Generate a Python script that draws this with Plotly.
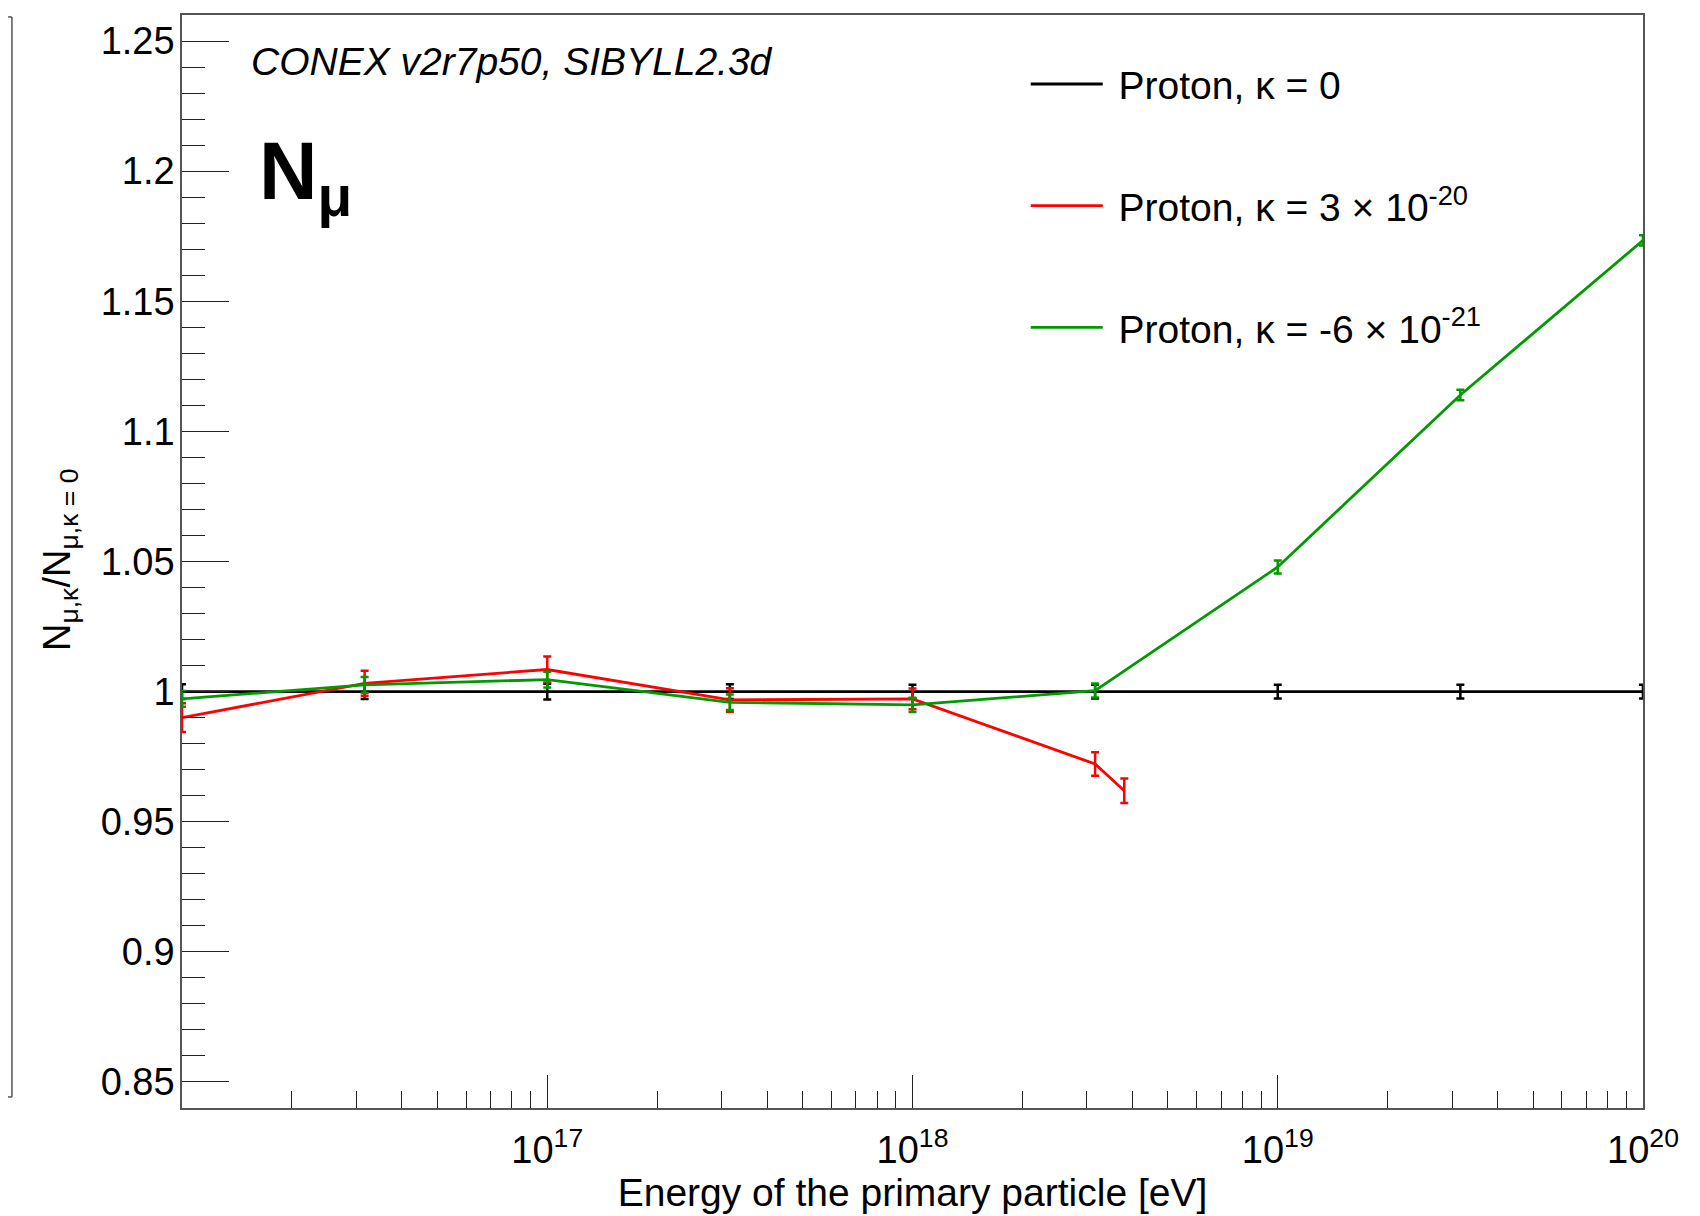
import plotly.graph_objects as go

# ---------------- data ----------------
energy = [1.0e16, 3.162e16, 1.0e17, 3.162e17, 1.0e18, 3.162e18, 1.0e19, 3.162e19, 1.0e20]

ref_ratio = [1.000, 1.000, 1.000, 1.000, 1.000, 1.000, 1.000, 1.000, 1.000]
ref_err = [0.0028, 0.0028, 0.0030, 0.0028, 0.0026, 0.0026, 0.0026, 0.0026, 0.0026]

red_energy = [1.0e16, 3.162e16, 1.0e17, 3.162e17, 1.0e18, 3.162e18, 3.8e18]
red_ratio = [0.9900, 1.0032, 1.0085, 0.9968, 0.9972, 0.9722, 0.9619]
red_err = [0.0055, 0.0048, 0.0050, 0.0045, 0.0040, 0.0045, 0.0047]

green_ratio = [0.9972, 1.0026, 1.0046, 0.9959, 0.9949, 1.0004, 1.0479, 1.1140, 1.1734]
green_err = [0.0030, 0.0030, 0.0030, 0.0030, 0.0027, 0.0027, 0.0025, 0.0020, 0.0020]

series_names = [
    "\u00a0Proton, κ = 0",
    "\u00a0Proton, κ = 3 × 10<sup>-20</sup>",
    "\u00a0Proton, κ = -6 × 10<sup>-21</sup>",
]
series_colors = ["#000000", "#ff0000", "#009a00"]

y_tick_vals = [0.85, 0.90, 0.95, 1.00, 1.05, 1.10, 1.15, 1.20, 1.25]
y_tick_text = ["0.85", "0.9", "0.95", "1", "1.05", "1.1", "1.15", "1.2", "1.25"]
x_tick_vals = [1e17, 1e18, 1e19, 1e20]
x_tick_text = ["10<sup>17</sup>", "10<sup>18</sup>", "10<sup>19</sup>", "10<sup>20</sup>"]
x_minor_vals = [m * 10.0 ** e for e in range(16, 20) for m in range(2, 10)]

FONT = "Liberation Sans, Arial, Helvetica, sans-serif"
FRAME = "#555555"

fig = go.Figure()

datasets = [
    (energy, ref_ratio, ref_err),
    (red_energy, red_ratio, red_err),
    (energy, green_ratio, green_err),
]
for i, (xs, ys, es) in enumerate(datasets):
    fig.add_trace(go.Scatter(
        x=xs, y=ys,
        mode="lines",
        name=series_names[i],
        legendgroup="g%d" % i,
        line=dict(color=series_colors[i], width=2.8),
        error_y=dict(type="data", array=es, visible=True,
                     color=series_colors[i], thickness=2.5, width=4),
    ))

# the page adds an 8 px body margin, so the figure is 8 px smaller than the window
fig.update_layout(
    width=1692, height=1208,
    margin=dict(l=174, r=57, t=5, b=108, pad=0),
    paper_bgcolor="white", plot_bgcolor="white",
    font=dict(family=FONT, size=38, color="black"),
    showlegend=True,
    legend=dict(
        x=0.5775, y=0.966, xanchor="left", yanchor="top",
        bgcolor="rgba(0,0,0,0)", borderwidth=0,
        font=dict(family=FONT, size=39, color="black"),
        traceorder="grouped", tracegroupgap=68, itemwidth=72,
    ),
    xaxis=dict(
        type="log", range=[16, 20],
        showgrid=False, zeroline=False,
        showline=True, linecolor=FRAME, linewidth=1.5, mirror=True,
        ticks="inside", ticklen=33, tickwidth=1.3, tickcolor="#222",
        tickvals=x_tick_vals, ticktext=x_tick_text,
        tickfont=dict(family=FONT, size=38),
        ticklabelstandoff=8,
        minor=dict(tickvals=x_minor_vals, ticks="inside", ticklen=17,
                   tickwidth=1.3, tickcolor="#222"),
        title=dict(text="Energy of the primary particle [eV]",
                   font=dict(family=FONT, size=39), standoff=3),
    ),
    yaxis=dict(
        range=[0.84, 1.26],
        showgrid=False, zeroline=False,
        showline=True, linecolor=FRAME, linewidth=1.5, mirror=True,
        ticks="inside", ticklen=47, tickwidth=1.4, tickcolor="#222",
        tickvals=y_tick_vals, ticktext=y_tick_text,
        tickfont=dict(family=FONT, size=38),
        ticklabelstandoff=-2,
        minor=dict(dtick=0.01, tick0=0.84, ticks="inside", ticklen=23,
                   tickwidth=1.3, tickcolor="#222"),
    ),
    annotations=[
        dict(text="N<sub>μ,κ</sub>/N<sub>μ,κ = 0</sub>", xref="paper", yref="paper",
             x=-0.083, y=0.502, xanchor="center", yanchor="middle",
             textangle=-90, showarrow=False,
             font=dict(family=FONT, size=38, color="black")),
        dict(text="<i>CONEX v2r7p50, SIBYLL2.3d</i>", xref="paper", yref="paper",
             x=0.046, y=0.957, xanchor="left", yanchor="middle", showarrow=False,
             font=dict(family=FONT, size=39, color="black")),
        dict(text="<b>N<sub>μ</sub></b>", xref="paper", yref="paper",
             x=0.051, y=0.9, xanchor="left", yanchor="top", showarrow=False,
             font=dict(family=FONT, size=81, color="black")),
    ],
    shapes=[
        # edge of the neighbouring pad frame at the far left
        dict(type="line", xref="paper", yref="paper",
             x0=-0.1164, x1=-0.1164, y0=0.9982, y1=0.0101,
             line=dict(color=FRAME, width=1.5)),
        dict(type="line", xref="paper", yref="paper",
             x0=-0.13, x1=-0.1164, y0=0.9982, y1=0.9982,
             line=dict(color=FRAME, width=1.5)),
        dict(type="line", xref="paper", yref="paper",
             x0=-0.13, x1=-0.1164, y0=0.0101, y1=0.0101,
             line=dict(color=FRAME, width=1.5)),
    ],
)

fig.write_html("out.html")
